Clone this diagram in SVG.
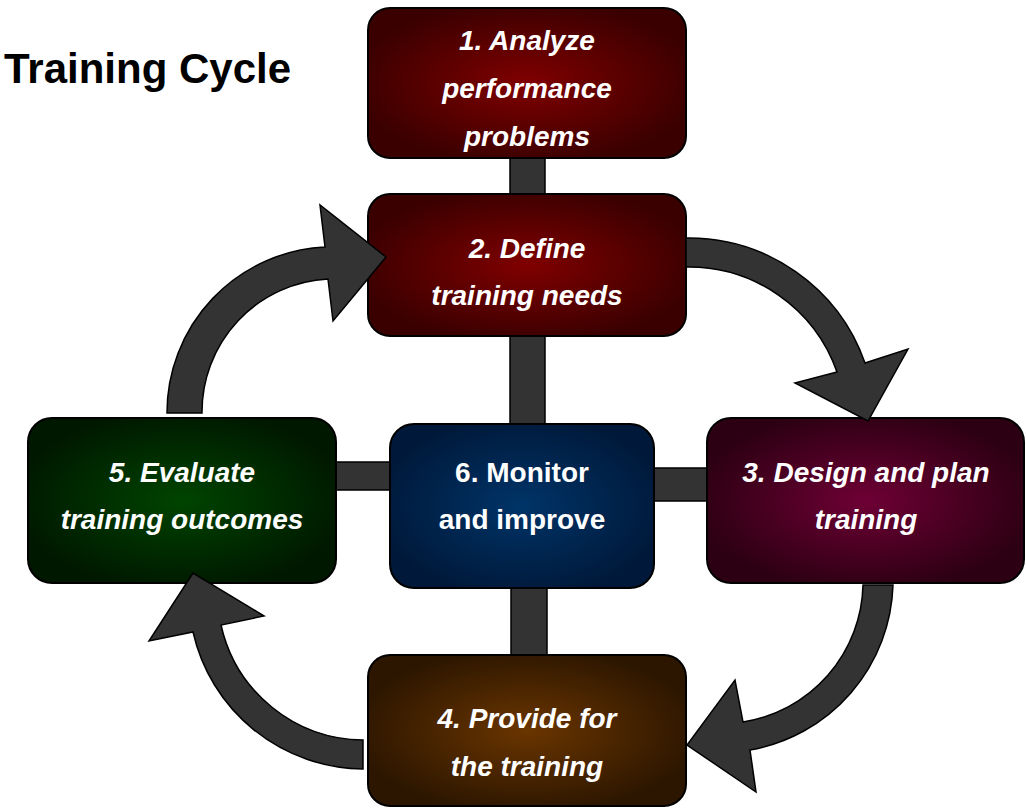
<svg xmlns="http://www.w3.org/2000/svg" width="1026" height="811" viewBox="0 0 1026 811">
<defs>
<radialGradient id="gRed" cx="0.5" cy="0.5" r="0.55"><stop offset="0" stop-color="#800000"/><stop offset="1" stop-color="#3a0000"/></radialGradient>
<radialGradient id="gPurple" cx="0.5" cy="0.5" r="0.55"><stop offset="0" stop-color="#6e0035"/><stop offset="1" stop-color="#2c0012"/></radialGradient>
<radialGradient id="gBrown" cx="0.5" cy="0.5" r="0.55"><stop offset="0" stop-color="#6a3500"/><stop offset="1" stop-color="#2c1600"/></radialGradient>
<radialGradient id="gGreen" cx="0.5" cy="0.5" r="0.55"><stop offset="0" stop-color="#004400"/><stop offset="1" stop-color="#001800"/></radialGradient>
<radialGradient id="gBlue" cx="0.5" cy="0.5" r="0.55"><stop offset="0" stop-color="#003468"/><stop offset="1" stop-color="#00193a"/></radialGradient>
</defs>
<style>
.box{stroke:#000;stroke-width:2}
.conn{fill:#333;stroke:#000;stroke-width:1.5}
.arrow{fill:#333;stroke:#000;stroke-width:1.5;stroke-linejoin:miter}
.lbl{font-family:"Liberation Sans",Arial,sans-serif;font-size:28px;font-weight:bold;font-style:italic;fill:#fff;text-anchor:middle}
.lbl6{font-family:"Liberation Sans",Arial,sans-serif;font-size:28px;font-weight:bold;fill:#fff;text-anchor:middle}
.title{font-family:"Liberation Sans",Arial,sans-serif;font-size:42px;font-weight:bold;fill:#000}
</style>
<rect width="1026" height="811" fill="#fff"/>
<text class="title" x="4" y="83">Training Cycle</text>
<g id="connectors">
<rect class="conn" x="510" y="150" width="35" height="52"/>
<rect class="conn" x="510" y="330" width="35" height="100"/>
<rect class="conn" x="332" y="462" width="64" height="28"/>
<rect class="conn" x="648" y="468" width="64" height="33"/>
<rect class="conn" x="511" y="582" width="36" height="80"/>
</g>
<g id="node1"><rect class="box" x="368" y="8" width="318" height="150" rx="22" fill="url(#gRed)"/>
<text class="lbl" x="527" y="50">1. Analyze</text><text class="lbl" x="527" y="98">performance</text><text class="lbl" x="527" y="146">problems</text></g>
<g id="node2"><rect class="box" x="368" y="194" width="318" height="142" rx="22" fill="url(#gRed)"/>
<text class="lbl" x="527" y="258">2. Define</text><text class="lbl" x="527" y="305">training needs</text></g>
<g id="node3"><rect class="box" x="707" y="418" width="317" height="165" rx="24" fill="url(#gPurple)"/>
<text class="lbl" x="866" y="482">3. Design and plan</text><text class="lbl" x="866" y="529">training</text></g>
<g id="node4"><rect class="box" x="368" y="655" width="318" height="151" rx="22" fill="url(#gBrown)"/>
<text class="lbl" x="527" y="728">4. Provide for</text><text class="lbl" x="527" y="776">the training</text></g>
<g id="node5"><rect class="box" x="28" y="418" width="308" height="165" rx="24" fill="url(#gGreen)"/>
<text class="lbl" x="182" y="482">5. Evaluate</text><text class="lbl" x="182" y="529">training outcomes</text></g>
<g id="node6"><rect class="box" x="390" y="424" width="264" height="164" rx="24" fill="url(#gBlue)"/>
<text class="lbl6" x="522" y="482">6. Monitor</text><text class="lbl6" x="522" y="529">and improve</text></g>
<g id="arrows">
<path class="arrow" d="M167 413 A166 166 0 0 1 325 247 L320 205 L386 257 L333 321 L328 279 A133 133 0 0 0 202 413 Z"/>
<path class="arrow" d="M686 238 A187 187 0 0 1 865 363 L908 349 L868 421 L795 383 L837 372 A157 157 0 0 0 686 267 Z"/>
<path class="arrow" d="M893 585 A173 173 0 0 1 750 750 L756 792 L687 745 L735 680 L743 722 A142 142 0 0 0 863 585 Z"/>
<path class="arrow" d="M363 769 A176 176 0 0 1 193 632 L149 641 L193 573 L264 616 L221 625 A147 147 0 0 0 363 740 Z"/>
</g>
</svg>
